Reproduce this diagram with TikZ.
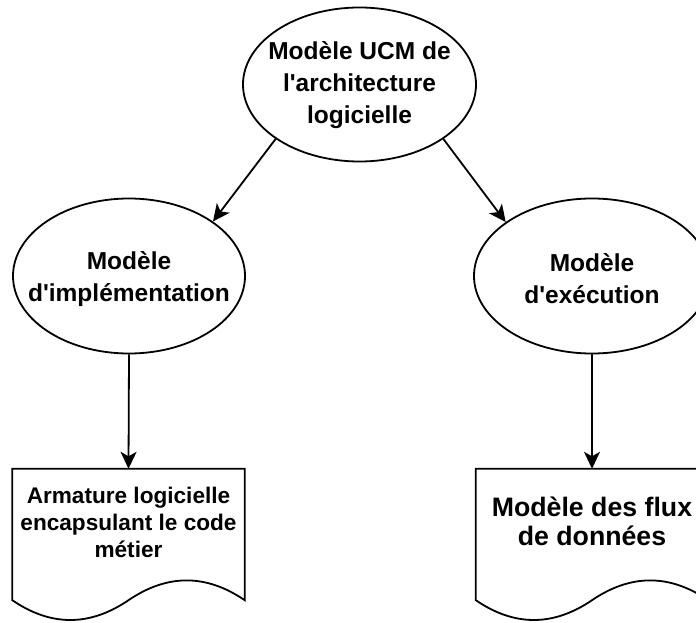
\documentclass[tikz,border=0pt]{standalone}
\usepackage{fontspec}
\setmainfont{Liberation Sans}
\usetikzlibrary{calc}
\usetikzlibrary{arrows.meta}
\usetikzlibrary{shapes.geometric}

\tikzset{
    modele/.style={ellipse,draw,line width=1.8pt,inner sep=0pt},
    docbox/.style={rectangle,inner sep=0pt,minimum width=232pt,minimum height=153pt},
    titre/.style={align=center,inner sep=0pt,font=\fontsize{24.5}{32}\selectfont\bfseries},
    petit/.style={align=center,inner sep=0pt,font=\fontsize{22.6}{27}\selectfont\bfseries},
    grand/.style={align=center,inner sep=0pt,font=\fontsize{26.7}{29.5}\selectfont\bfseries},
    fleche/.style={-{Stealth[length=17pt,width=16pt,inset=4.5pt]},line width=1.8pt}
}

\begin{document}
\begin{tikzpicture}[x=1pt,y=-1pt]
                \useasboundingbox (0,0) rectangle (696,623);

                \node[modele,minimum width=233pt,minimum height=154pt] (ucm) at (359.5,84.5) {};
                \node[modele,minimum width=232pt,minimum height=155pt] (impl) at (129,276) {};
                \node[modele,minimum width=236pt,minimum height=155pt] (exec) at (592,276) {};

                \node[titre] (ucmtxt) at (359.5,85.5) {Modèle UCM de\\l\textquotesingle architecture\\logicielle};
                \node[titre] (impltxt) at (129,279) {Modèle\\d\textquotesingle implémentation};
                \node[titre] (exectxt) at (592,279) {Modèle\\d\textquotesingle exécution};

                \node[docbox] (arm) at (128.5,545.5) {};
                \node[docbox] (flux) at (592,545.5) {};

                \draw[line width=1.8pt] (arm.north west) -- (arm.north east) -- ($(arm.south east)+(0pt,22pt)$)
                    .. controls ($(arm.south east)+(-38.7pt,48.4pt)$) and ($(arm.south east)+(-77.3pt,48.4pt)$) .. ($(arm.south)+(0pt,22pt)$)
                    .. controls ($(arm.south west)+(77.3pt,-4.4pt)$) and ($(arm.south west)+(38.7pt,-4.4pt)$) .. ($(arm.south west)+(0pt,22pt)$) -- cycle;
                \draw[line width=1.8pt] (flux.north west) -- (flux.north east) -- ($(flux.south east)+(0pt,22pt)$)
                    .. controls ($(flux.south east)+(-38.7pt,48.4pt)$) and ($(flux.south east)+(-77.3pt,48.4pt)$) .. ($(flux.south)+(0pt,22pt)$)
                    .. controls ($(flux.south west)+(77.3pt,-4.4pt)$) and ($(flux.south west)+(38.7pt,-4.4pt)$) .. ($(flux.south west)+(0pt,22pt)$) -- cycle;

                \node[petit] (armtxt) at (128.5,522) {Armature logicielle\\encapsulant le code\\métier};
                \node[grand] (fluxtxt) at (592,521.5) {Modèle des flux\\de données};

                \draw[fleche] (ucm.213) -- (impl.33);
                \draw[fleche] (ucm.327) -- (exec.148);
                \draw[fleche] (impl.south) -- (arm.north);
                \draw[fleche] (exec.south) -- (flux.north);
            \end{tikzpicture}
\end{document}
